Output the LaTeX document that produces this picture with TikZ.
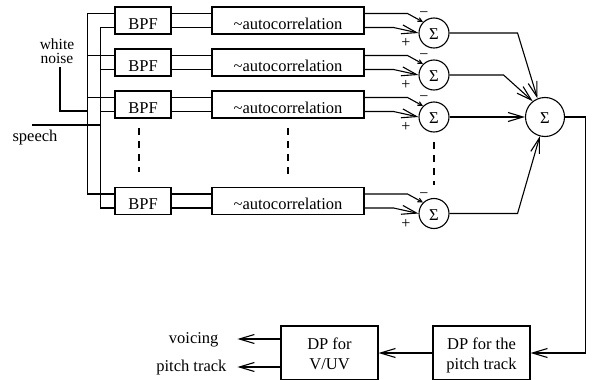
\documentclass[tikz,border=0pt]{standalone}
\usepackage{fontspec}
\setmainfont{Liberation Serif}
\usetikzlibrary{arrows.meta,calc}
\begin{document}
\begin{tikzpicture}[x=1pt,y=-1pt,line width=1.1pt,
  txt/.style={font=\fontsize{16.5}{20}\selectfont},
  blk/.style={draw,txt,inner sep=0pt,minimum height=27pt,text height=17pt,text depth=0pt},
  bpf/.style={blk,minimum width=56pt},
  acr/.style={blk,minimum width=152pt},
  sig/.style={draw,circle,txt,inner sep=0pt,minimum size=30pt,text height=13pt,text depth=0pt},
  bigsig/.style={draw,circle,txt,inner sep=0pt,minimum size=39pt,text height=13pt,text depth=0pt},
  dp/.style={draw,txt,align=center,inner sep=0pt,minimum width=97pt,minimum height=54pt,text height=34pt,text depth=2pt},
  pm/.style={font=\fontsize{16}{16}\selectfont,inner sep=0pt},
  barb/.style={-{Straight Barb[length=15pt,width=9pt]}},
  sbarb/.style={-{Straight Barb[length=4pt,width=4pt]}},
  dsh/.style={dash pattern=on 7pt off 6pt}]
\useasboundingbox (0,0) rectangle (595,380);
\clip (0,0) rectangle (595,380);

% rows
\foreach \i/\y in {1/20.5,2/62.5,3/104.5,4/201}{
  \node[bpf] (b\i) at (143,\y) {BPF};
  \node[acr] (a\i) at (288,\y) {\textasciitilde autocorrelation};
  \node[sig] (s\i) at (434,\y+12.5) {Σ};
  \coordinate (o\i) at ([xshift=-27pt,yshift=7pt]b\i.west);
  \coordinate (n\i) at ([xshift=-14pt,yshift=-7pt]b\i.west);
  \draw (o\i) -- ([yshift=7pt]b\i.west);
  \draw (n\i) -- ([yshift=-7pt]b\i.west);
  \draw ([yshift=7pt]b\i.east) -- ([yshift=7pt]a\i.west);
  \draw ([yshift=-7pt]b\i.east) -- ([yshift=-7pt]a\i.west);
  \draw[sbarb] ([yshift=7pt]a\i.east) -- ++(43,0) -- (s\i.135);
  \draw[barb] ([yshift=-7pt]a\i.east) -- ++(29,0) -- (s\i.west);
  \node[pm] at ($(s\i)+(-10,-18)$) {−};
  \node[pm] at ($(s\i)+(-28,10)$) {+};
}

% buses
\draw (o1) -- (o4);
\draw (n1) -- (n4);

% inputs
\node[align=center,inner sep=0pt,anchor=south,font=\fontsize{15.5}{14}\selectfont] (wn) at (57,64) {white\\noise};
\coordinate (wj) at (88,111);
\draw ([xshift=3pt,yshift=-3pt]wn.south) |- (wj);
\node[txt,inner sep=0pt,anchor=base west] (sp) at (12,141) {speech};
\coordinate (spL) at (32,125);
\coordinate (spJ) at (101,125);
\draw (spL) -- (spJ);

% dashed continuation marks
\draw[dsh] (139,128) -- (139,172);
\draw[dsh] (288,128) -- (288,180);
\draw[dsh] (434,142) -- (434,185);

% big summation
\node[bigsig] (S) at (545,117) {Σ};
\draw[barb] (s1.east) -- ++(68,0) -- (S.112);
\draw[barb] (s2.east) -- ++(54,0) -- (S.128);
\draw[barb] (s3.east) -- (S.west);
\draw[barb] (s4.east) -- ++(68,0) -- (S.255);

% DP blocks
\node[dp] (dpt) at (481.5,353) {DP for the\\pitch track};
\node[dp] (dpv) at (329.5,353) {DP for\\V/UV};
\draw[barb] (S.east) -- ++(20.5,0) |- (dpt.east);
\draw[barb] (dpt.west) -- (dpv.east);
\draw[barb] ([yshift=14pt]dpv.west) -- ++(-43,0) coordinate (vo);
\draw[barb] ([yshift=-14pt]dpv.west) -- ++(-43,0) coordinate (po);
\node[txt,inner sep=0pt,anchor=base east] (vt) at (219,343) {voicing};
\node[txt,inner sep=0pt,anchor=base east] (pt) at (227,371) {pitch track};
\end{tikzpicture}
\end{document}
